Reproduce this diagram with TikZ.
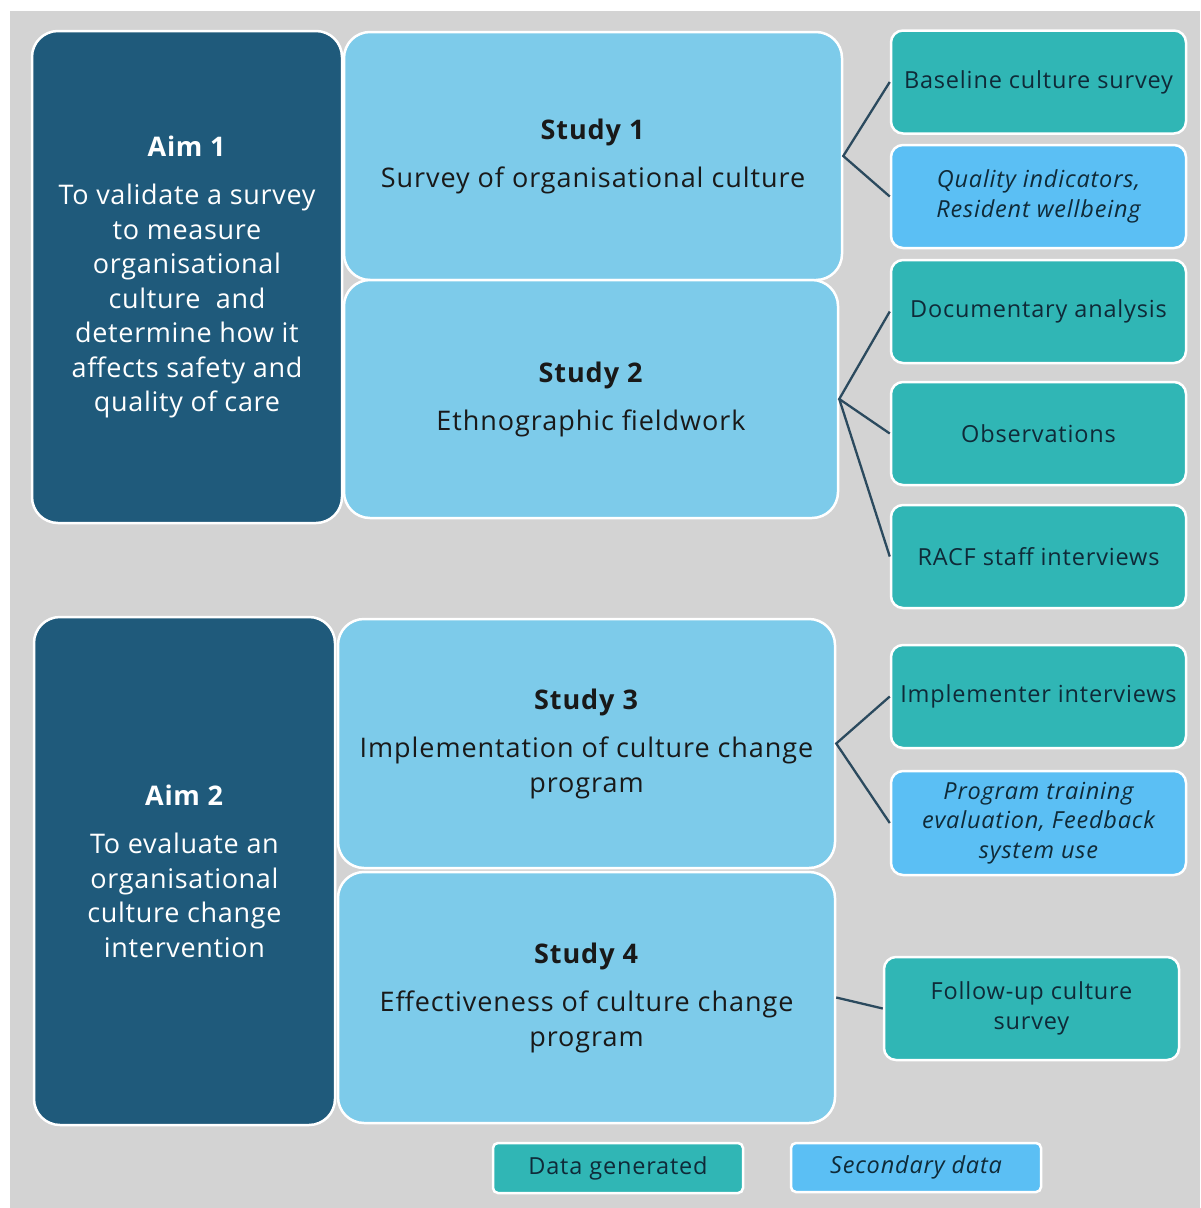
\documentclass[tikz,border=0pt]{standalone}
\usepackage{fontspec}
\setmainfont{Open Sans}
\definecolor{bggrey}{HTML}{D3D3D3}
\definecolor{aimblue}{HTML}{1F5A7B}
\definecolor{studyblue}{HTML}{7DCBEA}
\definecolor{teal}{HTML}{30B6B5}
\definecolor{secblue}{HTML}{5BBFF4}
\definecolor{linecol}{HTML}{2B4A5E}
\definecolor{txtdark}{HTML}{0F2A38}
\begin{document}
\begin{tikzpicture}[x=1pt,y=-1pt,
  bigbox/.style={rectangle, rounded corners=26pt, draw=white, line width=2.5pt, align=center, inner sep=0pt},
  aimbox/.style={bigbox, fill=aimblue, text=white, font=\fontsize{27}{34.5}\selectfont\addfontfeatures{LetterSpace=2.5}},
  studybox/.style={bigbox, fill=studyblue, text=black!90, font=\fontsize{27}{35}\selectfont\addfontfeatures{LetterSpace=3.5}},
  databox/.style={rectangle, rounded corners=12pt, draw=white, line width=2.5pt, align=center, inner sep=0pt,
     minimum width=295, minimum height=103, text=txtdark, font=\fontsize{23.5}{29.5}\selectfont\addfontfeatures{LetterSpace=3.5}},
  gen/.style={databox, fill=teal},
  sec/.style={databox, fill=secblue, font=\fontsize{23.5}{29.5}\selectfont\itshape\addfontfeatures{LetterSpace=3.5}},
  conn/.style={draw=linecol, line width=2.3pt}]
\useasboundingbox (0,0) rectangle (1200,1208);
\fill[white] (0,0) rectangle (1200,1208);
\fill[bggrey] (10,11) rectangle (1200,1208);

% Aim 1 block
\node[aimbox, minimum width=310, minimum height=492] (aim1) at (187,277)
  {\textbf{Aim 1}\\[14pt]To validate a survey\\to measure\\organisational\\culture\ \ and\\determine how it\\affects safety and\\quality of care};
\node[studybox, minimum width=498, minimum height=248] (s1) at (593,156)
  {\textbf{Study 1}\\[13pt]Survey of organisational culture};
\node[studybox, minimum width=494, minimum height=238] (s2) at (591,399)
  {\textbf{Study 2}\\[13pt]Ethnographic fieldwork};

\node[gen] (d1) at (1038.5,82) {Baseline culture survey};
\node[sec] (d2) at (1038.5,196.5) {Quality indicators,\\Resident wellbeing};
\node[gen] (d3) at (1038.5,311.5) {Documentary analysis};
\node[gen] (d4) at (1038.5,433.5) {Observations};
\node[gen] (d5) at (1038.5,556.5) {RACF staff interviews};

% Aim 2 block
\node[aimbox, minimum width=301, minimum height=508] (aim2) at (184.5,871)
  {\textbf{Aim 2}\\[14pt]To evaluate an\\organisational\\culture change\\intervention};
\node[studybox, minimum width=497, minimum height=249] (s3) at (586.5,743.5)
  {\textbf{Study 3}\\[13pt]Implementation of culture change\\program};
\node[studybox, minimum width=497, minimum height=251] (s4) at (586.5,997.5)
  {\textbf{Study 4}\\[13pt]Effectiveness of culture change\\program};

\node[gen] (d6) at (1038.5,696.5) {Implementer interviews};
\node[sec, minimum height=104] (d7) at (1038.5,823) {Program training\\evaluation, Feedback\\system use};
\node[gen] (d8) at (1031.5,1008.5) {Follow-up culture\\survey};

% connectors
\draw[conn] (d1.west) -- (s1.east) -- (d2.west);
\draw[conn] (d3.west) -- (s2.east) -- (d4.west);
\draw[conn] (s2.east) -- (d5.west);
\draw[conn] (d6.west) -- (s3.east) -- (d7.west);
\draw[conn] (s4.east) -- (d8.west);

% legend
\node[gen, minimum width=250, minimum height=50, rounded corners=5pt] (lg1) at (618,1168) {Data generated};
\node[sec, minimum width=250, minimum height=49, rounded corners=5pt] (lg2) at (916,1167.5) {Secondary data};
\end{tikzpicture}
\end{document}
